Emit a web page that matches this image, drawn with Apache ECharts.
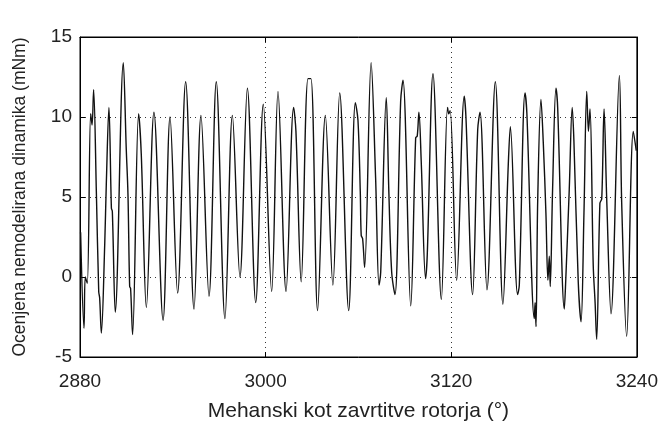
<!DOCTYPE html>
<html lang="en">
<head>
    <meta charset='utf-8' />
    <title>nemodelirana dinamika</title>
    <script src="https://cdn.jsdelivr.net/npm/echarts@6.0.0/dist/echarts.min.js"></script>
    <style>
        html, body { margin: 0; padding: 0; background: #fff; }
        #chart { width: 661px; height: 428px; }
    </style>
</head>
<body>
<div id="chart"></div>
<script>
    // mechanical angle (deg) and estimated torque (mNm)
    var angle = [
        2880.4, 2882.6, 2883.4, 2884.7, 2886.9, 2887.8, 2888.8, 2890.6, 2892.1, 2892.7,
        2893.8, 2896.0, 2897.0, 2898.7, 2900.3, 2900.9, 2902.8, 2908.0, 2909.9, 2911.0,
        2912.1, 2912.7, 2914.0, 2917.9, 2919.6, 2922.9, 2927.8, 2933.7, 2938.2, 2943.1,
        2948.3, 2953.7, 2958.2, 2963.4, 2968.1, 2973.7, 2978.5, 2983.4, 2988.2, 2993.6,
        2998.5, 3003.9, 3008.0, 3013.2, 3018.1, 3019.6, 3023.0, 3027.4, 3029.3, 3033.6,
        3038.6, 3043.5, 3047.9, 3053.7, 3058.0, 3059.7, 3061.2, 3061.8, 3062.7, 3064.0,
        3068.2, 3071.1, 3073.3, 3074.4, 3078.0, 3079.7, 3081.5, 3083.6, 3087.3, 3088.8,
        3093.8, 3097.0, 3098.0, 3099.1, 3100.6, 3103.4, 3104.5, 3108.2, 3113.6, 3117.6,
        3118.4, 3119.3, 3123.5, 3128.4, 3129.5, 3133.8, 3137.1, 3138.6, 3143.1, 3148.5,
        3153.4, 3156.9, 3158.2, 3162.9, 3164.0, 3167.7, 3168.9, 3173.7, 3174.2, 3174.8,
        3175.9, 3178.0, 3179.5, 3181.2, 3182.5, 3183.4, 3184.0, 3185.5, 3187.7, 3188.8,
        3193.1, 3193.9, 3196.3, 3198.2, 3199.3, 3202.1, 3203.9, 3205.8, 3207.6, 3208.7,
        3209.7, 3211.8, 3213.0, 3214.0, 3216.1, 3217.3, 3218.8, 3220.5, 3223.3, 3228.7,
        3230.2, 3233.4, 3237.7, 3239.6
    ];
    var torque = [
        2.8, -3.2, 0.0, -0.4, 10.2, 9.5, 11.7, 5.2, -0.9, -1.3,
        -3.5, 2.1, 5.8, 10.6, 4.3, 4.1, -2.2, 13.4, 8.0, 5.2,
        -0.6, -0.7, -3.6, 10.2, 7.7, -1.9, 10.3, -2.7, 10.0, -1.0,
        12.2, -2.0, 10.1, -1.2, 12.2, -2.6, 10.1, 0.0, 11.8, -1.6,
        10.8, -0.9, 11.6, -0.9, 10.6, 9.1, -0.3, 12.4, 12.4, -2.1,
        10.1, -0.5, 11.5, -2.1, 10.9, 9.8, 5.3, 2.6, 2.4, 0.6,
        13.4, 6.2, -0.5, 0.3, 11.2, 5.2, 0.3, -1.1, 11.0, 12.3,
        -1.8, 8.7, 8.8, 10.3, 7.2, -0.1, 1.4, 12.7, -1.4, 10.6,
        10.2, 10.4, -0.2, 11.3, 10.0, -1.1, 9.2, 10.3, -0.8, 12.2,
        -1.7, 7.1, 9.4, -1.1, -0.5, 11.5, 10.2, -2.6, -1.6, -3.1,
        4.8, 11.1, 8.4, 4.0, -0.2, 1.3, -0.6, 5.4, 11.8, 10.6,
        -2.0, -0.5, 5.5, 10.6, 8.5, -0.3, -2.8, 4.0, 11.6, 9.1,
        10.5, 0.7, -1.6, -3.9, 4.6, 4.9, 10.5, 4.9, -2.3, 12.6,
        4.6, -3.7, 9.1, 7.9
    ];
    var xTicks = [2880, 3000, 3120, 3240];
    var yTicks = [-5, 0, 5, 10, 15];

    var points = angle.map(function (a, i) { return [a, torque[i]]; });

    var font = 'Liberation Sans, Arial, sans-serif';
    var chart = echarts.init(document.getElementById('chart'), null, { renderer: 'canvas' });

    var option = {
        animation: false,
        backgroundColor: '#fff',
        grid: {
            left: 80, right: 24, top: 37, bottom: 71,
            show: true, borderColor: '#000', borderWidth: 1
        },
        xAxis: [{
            type: 'value',
            min: xTicks[0], max: xTicks[xTicks.length - 1], interval: 120,
            name: 'Mehanski kot zavrtitve rotorja (°)',
            nameLocation: 'middle', nameGap: 44,
            nameTextStyle: { fontFamily: font, fontSize: 21, color: '#222' },
            axisLine: { onZero: false, lineStyle: { color: '#000' } },
            axisTick: { inside: true, length: 5, lineStyle: { color: '#000' } },
            axisLabel: {
                fontFamily: font, fontSize: 19, color: '#222', margin: 15,
                formatter: function (v) { return String(v); }
            },
            splitLine: { show: true, lineStyle: { type: [1, 4], color: '#333', width: 1 } }
        }, {
            type: 'value', position: 'top',
            min: xTicks[0], max: xTicks[xTicks.length - 1], interval: 120,
            axisLine: { onZero: false, lineStyle: { color: '#000' } },
            axisTick: { inside: true, length: 5, lineStyle: { color: '#000' } },
            axisLabel: { show: false },
            splitLine: { show: false }
        }],
        yAxis: [{
            type: 'value',
            min: yTicks[0], max: yTicks[yTicks.length - 1], interval: 5,
            name: 'Ocenjena nemodelirana dinamika (mNm)',
            nameLocation: 'middle', nameGap: 51,
            nameTextStyle: { fontFamily: font, fontSize: 17.5, color: '#222' },
            axisLine: { show: true, onZero: false, lineStyle: { color: '#000' } },
            axisTick: { show: true, inside: true, length: 5, lineStyle: { color: '#000' } },
            axisLabel: { fontFamily: font, fontSize: 19, color: '#222', margin: 8 },
            splitLine: { show: true, lineStyle: { type: [1, 4], color: '#333', width: 1 } }
        }, {
            type: 'value', position: 'right',
            min: yTicks[0], max: yTicks[yTicks.length - 1], interval: 5,
            axisLine: { show: true, onZero: false, lineStyle: { color: '#000' } },
            axisTick: { show: true, inside: true, length: 5, lineStyle: { color: '#000' } },
            axisLabel: { show: false },
            splitLine: { show: false }
        }],
        series: [{
            type: 'line',
            data: points,
            showSymbol: false,
            smooth: 0.35,
            lineStyle: { color: '#111', width: 1.4 }
        }]
    };

    chart.setOption(option);
</script>
</body>
</html>
